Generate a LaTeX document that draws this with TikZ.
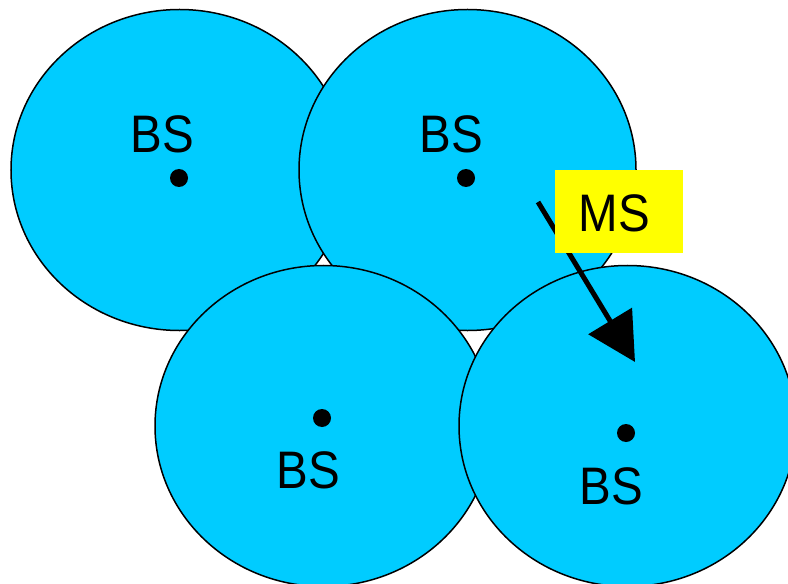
\documentclass[tikz,border=0pt]{standalone}
\usepackage{fontspec}
\setmainfont{Liberation Sans}[FakeStretch=0.9]
\usetikzlibrary{shapes.geometric,arrows.meta}
\definecolor{cellblue}{HTML}{00CCFF}
\definecolor{msyellow}{HTML}{FFFF00}
\begin{document}
\begin{tikzpicture}[x=1bp,y=-1bp,
  cell/.style={ellipse,draw=black,line width=1.5bp,fill=cellblue,
    minimum width=337bp,minimum height=321bp,inner sep=0pt},
  station/.style={circle,fill=black,minimum size=18bp,inner sep=0pt},
  lbl/.style={font=\fontsize{53}{60}\selectfont,inner sep=0pt,anchor=center},
  msbox/.style={fill=msyellow,minimum width=128bp,minimum height=83bp,inner sep=0pt},
  mstext/.style={font=\fontsize{53}{60}\selectfont,inner sep=0pt,anchor=center},
  move/.style={line width=5bp,-{Triangle[length=48bp,width=50bp]}}]
\useasboundingbox (0,0) rectangle (788,584);
\clip (0,0) rectangle (788,584);
% four cells, each drawn over the previous ones
\node[cell] (c1) at (179.5,170) {};
\node[cell] (c2) at (467.5,170) {};
\node[cell] (c3) at (323.5,426) {};
\node[cell] (c4) at (627.5,426) {};
% base stations
\node[station] (s1) at (179,178) {};
\node[station] (s2) at (466,178) {};
\node[station] (s3) at (322,418) {};
\node[station] (s4) at (626,433) {};
\node[lbl] (b1) at (162,134) {BS};
\node[lbl] (b2) at (451,134) {BS};
\node[lbl] (b3) at (308,470) {BS};
\node[lbl] (b4) at (611,486) {BS};
% mobile station moving into the next cell
\coordinate (from) at (538,202);
\coordinate (to) at (635,362);
\draw[move] (from) -- (to);
\node[msbox] (ms) at (619,211.5) {};
\node[mstext] (mslabel) at (614.5,213.5) {MS};
\end{tikzpicture}
\end{document}
